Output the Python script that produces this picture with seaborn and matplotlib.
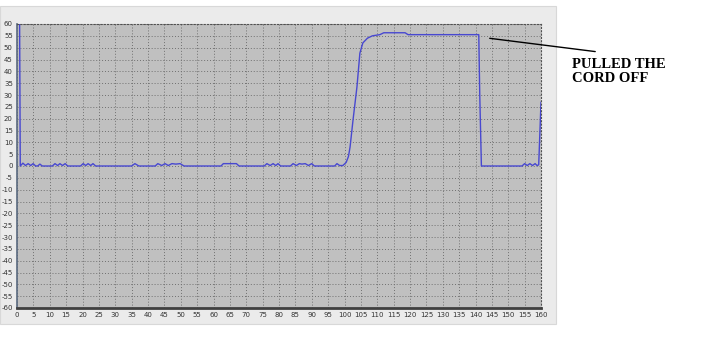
import matplotlib
matplotlib.use("Agg")
import matplotlib.pyplot as plt
import seaborn as sns
import pandas as pd
from matplotlib.patches import Rectangle

# ---- data ----
time = [0.8, 1.0, 1.8, 2.6, 3.4, 4.2, 4.9, 5.7, 6.3, 7.0, 7.7, 10.8, 11.6, 12.4, 13.1,
        13.9, 14.7, 15.5, 19.4, 20.2, 21.0, 21.7, 22.5, 23.2, 24.0, 35.0, 36.0, 37.2,
        42.2, 43.0, 44.2, 45.2, 46.2, 47.3, 48.5, 49.8, 51.0, 62.3, 63.0, 67.0, 67.8,
        75.5, 76.3, 77.3, 78.2, 79.0, 79.7, 80.5, 83.5, 84.3, 85.3, 86.2, 87.0, 88.0,
        89.0, 90.0, 90.8, 97.0, 97.7, 98.5, 99.5, 100.5, 101.2, 101.7, 102.6, 103.8,
        104.7, 105.6, 107.0, 108.5, 110.8, 112.0, 113.0, 118.5, 119.4, 141.0, 141.3,
        141.8, 154.2, 155.0, 155.8, 156.6, 157.4, 158.2, 158.8, 159.3, 160.0]
signal = [60, 0, 1.2, 0.2, 1.0, 0.2, 1.0, 0, 0, 0.8, 0, 0, 1.0, 0.2, 1.0,
          0.2, 1.0, 0, 0, 1.0, 0.2, 1.0, 0.2, 1.0, 0, 0, 1.0, 0,
          0, 1.0, 0.2, 1.0, 0.2, 1.0, 0.8, 1.0, 0, 0, 1.0, 1.0, 0,
          0, 1.0, 0.2, 1.0, 0.2, 1.0, 0, 0, 1.0, 0.2, 1.0, 0.8, 1.0,
          0.2, 1.0, 0, 0, 1.0, 0.2, 0.2, 1.5, 4, 8, 19.4, 33.4,
          47.7, 52, 54, 55, 55.5, 56.3, 56.3, 56.3, 55.5, 55.5, 30,
          0, 0, 1.0, 0.2, 1.0, 0.2, 1.0, 0.2, 0.5, 27]
x_ticks = list(range(0, 161, 5))
y_ticks = list(range(-60, 61, 5))
annotation_text = "PULLED THE\nCORD OFF"

df = pd.DataFrame({"time": time, "signal": signal})

sns.set_theme(style="white")
W, H = 712, 342
fig = plt.figure(figsize=(W / 100, H / 100), dpi=100)
fig.patch.set_facecolor("white")

# light grey window panel behind the chart
fig.patches.append(Rectangle((0, 1 - 324 / H), 556 / W, 318 / H, transform=fig.transFigure,
                             facecolor="#ebebeb", edgecolor="#d8d8d8", lw=0.8, zorder=-1))

ax = fig.add_axes([17 / W, 1 - 308 / H, (541 - 17) / W, (308 - 24) / H])
ax.set_facecolor("#c0c0c0")

sns.lineplot(data=df, x="time", y="signal", ax=ax, sort=False, estimator=None,
             color="#4848d0", lw=1.0)

ax.set_xlim(0, 160)
ax.set_ylim(-60, 60)
ax.set_xticks(x_ticks)
ax.set_yticks(y_ticks)
ax.set_xticklabels([str(v) for v in x_ticks])
ax.set_yticklabels([str(v) for v in y_ticks])
ax.set_xlabel("")
ax.set_ylabel("")
ax.grid(True, color="#707070", ls=(0, (1, 2)), lw=0.7)
ax.tick_params(axis="both", labelsize=5, colors="#333333", length=1.5, width=0.6, pad=1.5)

for side in ("top", "right"):
    ax.spines[side].set_linestyle((0, (1, 2)))
    ax.spines[side].set_color("#505050")
    ax.spines[side].set_linewidth(0.8)
ax.spines["left"].set_color("#5a6a80")
ax.spines["left"].set_linewidth(1.2)
ax.spines["bottom"].set_color("#404040")
ax.spines["bottom"].set_linewidth(2.0)

ax.annotate("", xy=(143.5, 54.1), xytext=(177.4, 48.2),
            arrowprops=dict(arrowstyle="-", color="black", lw=1.0),
            annotation_clip=False)

fig.text(572 / W, 1 - 58 / H, annotation_text, ha="left", va="top",
         family="Liberation Serif", fontweight="bold", fontsize=10.5,
         linespacing=1.1, color="black")

fig.savefig("out.png", dpi=100)
